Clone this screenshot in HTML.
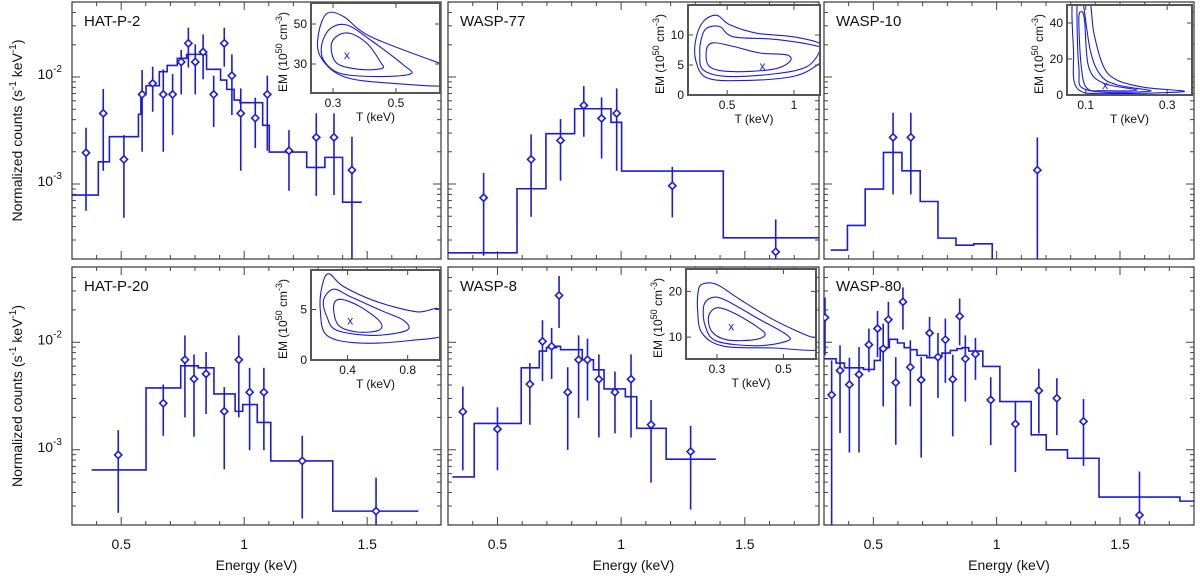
<!DOCTYPE html>
<html><head><meta charset="utf-8"><style>
html,body{margin:0;padding:0;background:#fff;}
svg{display:block;font-family:"Liberation Sans",Arial,sans-serif;}
</style></head><body>
<svg id="chart" width="1200" height="576" viewBox="0 0 1200 576" xmlns="http://www.w3.org/2000/svg"></svg>
<script>
// ---------- data (energies in keV, counts as log10 of s^-1 keV^-1) ----------
const p1E=[.357,.427,.511,.585,.628,.671,.709,.744,.773,.801,.833,.876,.919,.950,.986,1.045,1.094,1.182,1.293,1.365,1.438];
const p1L=[-2.708,-2.340,-2.770,-2.163,-2.060,-2.163,-2.163,-1.860,-1.686,-1.860,-1.767,-2.163,-1.686,-1.988,-2.340,-2.384,-2.163,-2.689,-2.564,-2.564,-2.870];
const p1Hi=[-2.474,-2.113,-2.543,-1.935,-1.904,-1.929,-1.973,-1.748,-1.540,-1.695,-1.602,-1.988,-1.540,-1.789,-2.107,-2.194,-1.988,-2.496,-2.340,-2.340,-2.558];
const p1Lo=[-3.250,-2.876,-3.315,-2.698,-2.325,-2.698,-2.543,-2.163,-1.913,-2.163,-2.022,-2.468,-1.904,-2.356,-2.876,-2.664,-2.689,-3.063,-3.110,-3.103,-3.9];
const p1Edges=[.301,.407,.452,.570,.580,.601,.655,.687,.728,.766,.847,.904,.929,.959,.983,1.075,1.102,1.254,1.328,1.400,1.478];
const p1Model=[-3.103,-2.792,-2.558,-2.349,-2.163,-2.082,-1.951,-1.892,-1.826,-1.789,-1.929,-2.029,-2.116,-2.216,-2.240,-2.452,-2.701,-2.845,-2.751,-3.169];

const p2E=[.444,.636,.755,.849,.921,.982,1.207,1.625];
const p2L=[-3.128,-2.770,-2.593,-2.265,-2.387,-2.340,-3.016,-3.633];
const p2Hi=[-2.895,-2.536,-2.393,-2.085,-2.191,-2.107,-2.839,-3.331];
const p2Lo=[-3.67,-3.306,-2.969,-2.558,-2.761,-2.876,-3.312,-3.70];
const p2Edges=[.3,.579,.696,.812,.959,1.002,1.413,1.8];
const p2Model=[-3.642,-3.044,-2.530,-2.297,-2.424,-2.879,-3.502];

const p3E=[.580,.652,1.165];
const p3L=[-2.564,-2.564,-2.870];
const p3Hi=[-2.334,-2.334,-2.564];
const p3Lo=[-3.097,-3.097,-3.9];
const p3Edges=[.327,.395,.467,.541,.616,.690,.762,.835,.907,.982,.984];
const p3Model=[-3.617,-3.387,-3.047,-2.705,-2.876,-3.163,-3.505,-3.571,-3.558,-5];

const p4E=[.488,.671,.759,.796,.845,.919,.978,1.022,1.080,1.236,1.536];
const p4L=[-3.048,-2.568,-2.163,-2.341,-2.294,-2.643,-2.163,-2.465,-2.465,-3.104,-3.571];
const p4Hi=[-2.817,-2.393,-1.936,-2.113,-2.091,-2.418,-1.936,-2.238,-2.238,-2.870,-3.260];
const p4Lo=[-3.587,-2.870,-2.699,-2.879,-2.668,-3.182,-2.699,-3.004,-3.004,-3.640,-3.696];
const p4Edges=[.380,.601,.742,.813,.877,.963,.994,1.053,1.108,1.360,1.708];
const p4Model=[-3.188,-2.425,-2.219,-2.238,-2.481,-2.643,-2.580,-2.746,-3.104,-3.571];

const p5E=[.360,.500,.631,.682,.719,.749,.784,.828,.864,.910,.975,1.040,1.121,1.281];
const p5L=[-2.646,-2.808,-2.390,-1.992,-2.038,-1.565,-2.465,-2.163,-2.163,-2.344,-2.465,-2.344,-2.767,-3.017];
const p5Hi=[-2.412,-2.605,-2.194,-1.795,-1.867,-1.384,-2.232,-1.936,-1.967,-2.113,-2.272,-2.113,-2.537,-2.777];
const p5Lo=[-3.191,-3.191,-2.767,-2.362,-2.341,-1.867,-3.001,-2.705,-2.543,-2.886,-2.848,-2.886,-3.306,-3.556];
const p5Edges=[.318,.406,.596,.669,.698,.739,.755,.809,.843,.888,.931,1.017,1.063,1.182,1.383];
const p5Model=[-3.253,-2.755,-2.238,-2.082,-2.051,-2.038,-2.069,-2.069,-2.163,-2.256,-2.434,-2.506,-2.801,-3.088];

const p6E=[.304,.331,.365,.403,.442,.482,.517,.540,.561,.591,.620,.650,.694,.728,.762,.792,.822,.850,.873,.914,.976,1.076,1.171,1.244,1.352,1.579];
const p6L=[-1.770,-2.490,-2.263,-2.394,-2.300,-2.023,-1.873,-2.060,-1.789,-2.375,-1.624,-2.232,-2.350,-1.914,-2.138,-1.976,-2.344,-1.758,-2.154,-2.110,-2.537,-2.761,-2.450,-2.521,-2.736,-3.608];
const p6Hi=[-1.584,-2.169,-2.029,-2.144,-2.045,-1.873,-1.708,-1.827,-1.624,-2.138,-1.490,-1.982,-2.138,-1.764,-1.914,-1.780,-2.116,-1.593,-1.936,-1.960,-2.325,-2.552,-2.247,-2.334,-2.528,-3.203];
const p6Lo=[-2.122,-3.9,-2.845,-3.026,-3.026,-2.278,-2.138,-2.596,-2.051,-2.954,-1.883,-2.596,-3.073,-2.138,-2.518,-2.378,-2.876,-2.029,-2.552,-2.350,-2.957,-3.207,-2.848,-2.864,-3.150,-3.711];
const p6Edges=[.3,.349,.383,.460,.504,.528,.565,.598,.625,.650,.677,.717,.754,.778,.812,.839,.860,.887,.914,.944,1.013,1.140,1.201,1.287,1.415,1.743,1.8];
const p6Model=[-2.154,-2.194,-2.238,-2.253,-2.169,-2.051,-1.973,-2.007,-2.051,-2.069,-2.122,-2.144,-2.132,-2.101,-2.076,-2.060,-2.051,-2.082,-2.082,-2.225,-2.552,-2.861,-3.001,-3.079,-3.440,-3.478];

// inset contours: [T (keV)], [EM (1e50 cm^-3)]
const i1T1=[.294,.313,.355,.408,.450,.456,.387,.313], i1M1=[38.7,44,45.3,40.3,31.2,27.8,27.3,30.3];
const i1T2=[.265,.292,.344,.419,.524,.546,.440,.323,.270], i1M2=[40.3,47.8,49.5,42,29.5,25,23.7,25.3,32];
const i1T3=[.254,.281,.334,.419,.641,.683,.683,.493,.334,.260], i1M3=[45.3,55.3,53.7,43.7,30.3,28.7,19.5,20.3,23.7,33.7];
const i1Best=[.344,34.5];
const i2T1=[.345,.395,.545,.745,.945,.97,.845,.545,.37], i2M1=[7.5,8.7,8.1,7.0,6.7,5.6,4.3,3.9,4.7];
const i2T2=[.305,.345,.445,.545,.845,1.145,1.195,1.095,.845,.495,.32,.295], i2M2=[9.2,11.1,11.4,9.7,9.3,8.3,7.5,4.7,3.5,3.1,4.2,6.9];
const i2T3=[.265,.32,.42,.52,.72,.995,1.195,1.245,1.195,.995,.595,.345,.265], i2M3=[9.17,12.2,13.3,11.7,10.3,9.7,8.6,6.9,5.3,3.1,2.4,2.9,5.8];
const i2Best=[.765,4.8];
const i3T1=[.083,.089,.097,.107,.144,.226,.144,.103,.089], i3M1=[41.7,46.3,41.7,15.7,6.5,2.8,2.4,3.7,15.7];
const i3T2=[.079,.083,.103,.259,.177,.136,.111,.091], i3M2=[54.6,15.7,2.8,2.2,5.6,11.1,25,54.6];
const i3T3=[.069,.070,.079,.161,.341,.243,.177,.144,.120,.107], i3M3=[54.6,25,3.7,.9,1.9,4.3,8.3,15.7,34.3,54.6];
const i3Best=[.148,5.6];
const i4T1=[.307,.351,.484,.617,.606,.462,.340], i4M1=[5.27,6.0,5.27,3.77,2.93,2.77,3.43];
const i4T2=[.241,.307,.418,.617,.772,.794,.573,.330,.263], i4M2=[5.93,7.0,6.27,4.93,3.93,2.93,2.43,2.93,4.27];
const i4T3=[.230,.274,.373,.595,.860,1.015,1.059,.816,.484,.263,.219], i4M3=[7.27,8.53,7.27,5.77,4.77,5.0,2.6,1.93,1.67,2.43,4.93];
const i4Best=[.418,3.93];
const i5T1=[.275,.30,.35,.42,.445,.41,.33,.285], i5M1=[14.5,16.4,15.3,12.3,10.5,9.4,9.4,11.2];
const i5T2=[.26,.28,.32,.42,.51,.51,.42,.30,.265], i5M2=[16.7,18.5,18.3,14.2,10.5,9.1,8.1,9.1,12.4];
const i5T3=[.245,.26,.30,.37,.47,.58,.61,.61,.47,.32,.255,.242], i5M3=[20.4,21.7,21.5,18.2,13.8,10.1,10.1,7.2,7.6,8.0,10.9,16];
const i5Best=[.343,12.3];

const xTickLabels=["0.5","1","1.5"];
const xTickVals=[0.5,1,1.5];
const yMajor=[-2,-3];

// ---------- layout ----------
const NS="http://www.w3.org/2000/svg";
const svg=document.getElementById('chart');
const BLUE="#1c1cd8";
const E0=0.3,E1=1.8,LTOP=-1.3,LBOT=-3.7;
function mk(tag,attrs,parent){const e=document.createElementNS(NS,tag);for(const k in attrs)e.setAttribute(k,attrs[k]);(parent||svg).appendChild(e);return e;}

const panels=[
 {name:"HAT-P-2",x0:72,x1:441,y0:2,y1:259,E:p1E,L:p1L,Hi:p1Hi,Lo:p1Lo,ed:p1Edges,md:p1Model,
  inset:{x:311,y:3,w:129,h:90,t0:.23,t1:.64,m0:15.5,m1:60.5,tt:[0.3,0.5],mt:[30,50],c:[[i1T1,i1M1],[i1T2,i1M2],[i1T3,i1M3]],best:i1Best}},
 {name:"WASP-77",x0:448,x1:819,y0:2,y1:259,E:p2E,L:p2L,Hi:p2Hi,Lo:p2Lo,ed:p2Edges,md:p2Model,
  inset:{x:688,y:5,w:132,h:90,t0:.207,t1:1.195,m0:0,m1:15,tt:[0.5,1],mt:[0,5,10],c:[[i2T1,i2M1],[i2T2,i2M2],[i2T3,i2M3]],best:i2Best}},
 {name:"WASP-10",x0:824,x1:1194,y0:2,y1:259,E:p3E,L:p3L,Hi:p3Hi,Lo:p3Lo,ed:p3Edges,md:p3Model,
  inset:{x:1067,y:5,w:125,h:90,t0:.054,t1:.361,m0:0,m1:50,tt:[0.1,0.3],mt:[0,20,40],c:[[i3T1,i3M1],[i3T2,i3M2],[i3T3,i3M3]],best:i3Best}},
 {name:"HAT-P-20",x0:72,x1:441,y0:267,y1:525,E:p4E,L:p4L,Hi:p4Hi,Lo:p4Lo,ed:p4Edges,md:p4Model,
  inset:{x:311,y:270,w:129,h:90,t0:.157,t1:1.015,m0:0,m1:8.9,tt:[0.4,0.8],mt:[0,5],c:[[i4T1,i4M1],[i4T2,i4M2],[i4T3,i4M3]],best:i4Best}},
 {name:"WASP-8",x0:448,x1:819,y0:267,y1:525,E:p5E,L:p5L,Hi:p5Hi,Lo:p5Lo,ed:p5Edges,md:p5Model,
  inset:{x:686,y:269,w:130,h:90,t0:.207,t1:.598,m0:5.2,m1:24.9,tt:[0.3,0.5],mt:[10,20],c:[[i5T1,i5M1],[i5T2,i5M2],[i5T3,i5M3]],best:i5Best}},
 {name:"WASP-80",x0:824,x1:1194,y0:267,y1:525,E:p6E,L:p6L,Hi:p6Hi,Lo:p6Lo,ed:p6Edges,md:p6Model,inset:null}
];

function smoothClosed(pts){
  const n=pts.length;let d=`M${pts[0][0].toFixed(1)},${pts[0][1].toFixed(1)}`;
  for(let i=0;i<n;i++){
    const p0=pts[(i-1+n)%n],p1=pts[i],p2=pts[(i+1)%n],p3=pts[(i+2)%n];
    const c1=[p1[0]+(p2[0]-p0[0])/6,p1[1]+(p2[1]-p0[1])/6];
    const c2=[p2[0]-(p3[0]-p1[0])/6,p2[1]-(p3[1]-p1[1])/6];
    d+=` C${c1[0].toFixed(1)},${c1[1].toFixed(1)} ${c2[0].toFixed(1)},${c2[1].toFixed(1)} ${p2[0].toFixed(1)},${p2[1].toFixed(1)}`;
  }
  return d+'Z';
}

panels.forEach((p,pi)=>{
  const xs=e=>p.x0+(e-E0)/(E1-E0)*(p.x1-p.x0);
  const ys=l=>p.y0+(LTOP-l)/(LTOP-LBOT)*(p.y1-p.y0);
  const g=mk('g',{});
  
  
  const cid='clip'+pi;
  const cp=mk('clipPath',{id:cid},g);mk('rect',{x:p.x0,y:p.y0,width:p.x1-p.x0,height:p.y1-p.y0},cp);
  const frame=mk('rect',{x:p.x0,y:p.y0,width:p.x1-p.x0,height:p.y1-p.y0,fill:'none',stroke:'#444','stroke-width':1.3},g);
  
  
  // ticks
  let td='';
  for(let k=3;k<=18;k++){const e=k/10;const x=xs(e);const len=(k%5===0)?8:4;
    td+=`M${x},${p.y1}v${-len}M${x},${p.y0}v${len}`;}
  for(let dec=-4;dec<=-1;dec++)for(let m=1;m<=9;m++){const l=dec+Math.log10(m);if(l>LTOP||l<LBOT)continue;
    const y=ys(l);const len=m===1?8:4;td+=`M${p.x0},${y}h${len}M${p.x1},${y}h${-len}`;}
  const ticks=mk('path',{d:td,stroke:'#444','stroke-width':1,fill:'none'},g);
  
  
  const dg=mk('g',{'clip-path':`url(#${cid})`},g);
  // model step
  let md=`M${xs(p.ed[0])},${ys(p.md[0])}`;
  for(let i=0;i<p.md.length;i++){md+=`L${xs(p.ed[i+1])},${ys(p.md[i])}`;if(i+1<p.md.length)md+=`L${xs(p.ed[i+1])},${ys(p.md[i+1])}`;}
  const model=mk('path',{d:md,stroke:BLUE,'stroke-width':1.6,fill:'none'},dg);
  
  
  // data points
  for(let i=0;i<p.E.length;i++){
    const x=xs(p.E[i]),y=ys(p.L[i]);
    const eb=mk('line',{x1:x,x2:x,y1:ys(p.Hi[i]),y2:ys(p.Lo[i]),stroke:BLUE,'stroke-width':1.6},dg);
    
    
    const dm=mk('path',{d:`M${x},${y-3.6}L${x+3.6},${y}L${x},${y+3.6}L${x-3.6},${y}Z`,fill:'#fff',stroke:BLUE,'stroke-width':1.6},dg);
    
    
  }
  const lbl=mk('text',{x:p.x0+12,y:p.y0+24,'font-size':15,fill:'#111'},g);lbl.textContent=p.name;
  
  
  // y tick labels on first column
  if(p.x0<100){
    yMajor.forEach(v=>{const y=ys(v);
      const t=mk('text',{x:p.x0-10,y:y+2,'font-size':14,'text-anchor':'end',fill:'#111'},g);
      
      
      const a=mk('tspan',{},t);a.textContent='10';
      const b=mk('tspan',{dy:-7,'font-size':10},t);b.textContent=String(v).replace('-','-');
    });
    const yt=mk('text',{transform:`translate(22,${(p.y0+p.y1)/2}) rotate(-90)`,'font-size':14,'text-anchor':'middle',fill:'#111'},g);
    
    
    const s1=mk('tspan',{},yt);s1.textContent='Normalized counts (s';
    const s2=mk('tspan',{dy:-6,'font-size':10},yt);s2.textContent='-1';
    const s3=mk('tspan',{dy:6},yt);s3.textContent=' keV';
    const s4=mk('tspan',{dy:-6,'font-size':10},yt);s4.textContent='-1';
    const s5=mk('tspan',{dy:6},yt);s5.textContent=')';
  }
  if(p.y0>200){
    xTickVals.forEach((v,k)=>{const t=mk('text',{x:xs(v),y:p.y1+24,'font-size':14,'text-anchor':'middle',fill:'#111'},g);t.textContent=xTickLabels[k];
      
      });
    const xt=mk('text',{x:(p.x0+p.x1)/2,y:570,'font-size':14,'text-anchor':'middle',fill:'#111'},g);xt.textContent='Energy (keV)';
    
    
  }
  // inset
  const q=p.inset;if(!q)return;
  const ig=mk('g',{},g);
  
  
  const tx=t=>q.x+(t-q.t0)/(q.t1-q.t0)*q.w;
  const my=m=>q.y+q.h-(m-q.m0)/(q.m1-q.m0)*q.h;
  mk('rect',{x:q.x,y:q.y,width:q.w,height:q.h,fill:'#fff'},ig);
  const icid='iclip'+pi;const icp=mk('clipPath',{id:icid},ig);mk('rect',{x:q.x,y:q.y,width:q.w,height:q.h},icp);
  const cg=mk('g',{'clip-path':`url(#${icid})`},ig);
  q.c.forEach(([T,M])=>{const pts=T.map((t,i)=>[tx(t),my(M[i])]);
    const c=mk('path',{d:smoothClosed(pts),fill:'none',stroke:BLUE,'stroke-width':1.1},cg);
    
    });
  const bx=tx(q.best[0]),by=my(q.best[1]);
  const bm=mk('text',{x:bx,y:by+4,'font-size':12,'text-anchor':'middle',fill:BLUE},cg);bm.textContent='x';
  
  
  let itd='';
  q.tt.forEach(t=>{const x=tx(t);itd+=`M${x},${q.y+q.h}v-5M${x},${q.y}v5`;});
  q.mt.forEach(m=>{const y=my(m);itd+=`M${q.x},${y}h5M${q.x+q.w},${y}h-5`;});
  mk('path',{d:itd,stroke:'#444','stroke-width':1,fill:'none'},ig);
  mk('rect',{x:q.x,y:q.y,width:q.w,height:q.h,fill:'none',stroke:'#555','stroke-width':2},ig);
  q.tt.forEach(t=>{const l=mk('text',{x:tx(t),y:q.y+q.h+14,'font-size':12,'text-anchor':'middle',fill:'#111'},ig);l.textContent=String(t);
    
    });
  q.mt.forEach(m=>{const l=mk('text',{x:q.x-4,y:my(m)+4,'font-size':12,'text-anchor':'end',fill:'#111'},ig);l.textContent=String(m);
    
    });
  const tt=mk('text',{x:q.x+q.w/2,y:q.y+q.h+28,'font-size':12,'text-anchor':'middle',fill:'#111'},ig);tt.textContent='T (keV)';
  
  
  const et=mk('text',{transform:`translate(${q.x-24},${q.y+q.h/2+4}) rotate(-90)`,'font-size':12,'text-anchor':'middle',fill:'#111'},ig);
  
  
  const e1=mk('tspan',{},et);e1.textContent='EM (10';
  const e2=mk('tspan',{dy:-5,'font-size':9},et);e2.textContent='50';
  const e3=mk('tspan',{dy:5},et);e3.textContent=' cm';
  const e4=mk('tspan',{dy:-5,'font-size':9},et);e4.textContent='-3';
  const e5=mk('tspan',{dy:5},et);e5.textContent=')';
});
</script>
</body></html>
